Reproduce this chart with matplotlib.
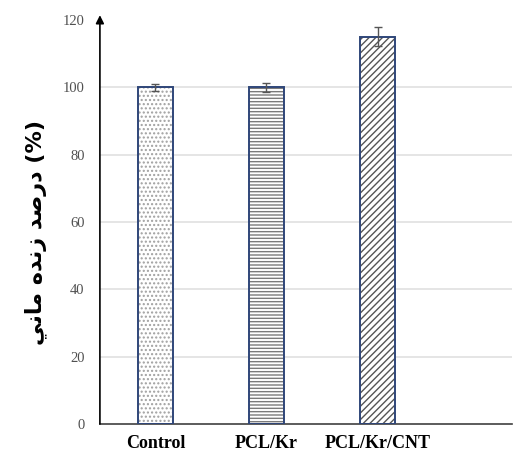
import matplotlib
matplotlib.use("Agg")
import matplotlib.pyplot as plt

# data
groups = ["Control", "PCL/Kr", "PCL/Kr/CNT"]
viability = [100, 100, 115]
errors = [1.1, 1.3, 2.8]
hatches = ["....", "-----", "/////"]
hatch_colors = ["#a0a0a0", "#7a7a7a", "#555555"]
yticks = [0, 20, 40, 60, 80, 100, 120]

# Persian label "درصد زنده مانی (%)" written in shaped presentation forms,
# laid out left to right so it shows correctly without a bidi engine
ylabel = "\ufef2\ufee7\ufe8e\ufee3 \ufee9\ufeaa\ufee7\ufeaf \ufeaa\ufebb\ufead\ufea9 (%)"

plt.rcParams["hatch.linewidth"] = 1.0

fig = plt.figure(figsize=(5.15, 4.55), dpi=100)
ax = fig.add_axes([0.194, 0.068, 0.8, 0.888])

x = range(len(groups))
for i in x:
    ax.bar(i, viability[i], width=0.315, color="white", hatch=hatches[i],
           edgecolor=hatch_colors[i], linewidth=0, zorder=2)
ax.bar(x, viability, width=0.315, fill=False, edgecolor="#2f4679",
       linewidth=1.4, zorder=3)
ax.errorbar(x, viability, yerr=errors, fmt="none", ecolor="#555555",
            elinewidth=1.0, capsize=3, capthick=1.0, zorder=4)

ax.set_xlim(-0.5, 3.21)
ax.set_ylim(0, 120)
ax.set_yticks(yticks)
ax.set_yticklabels([str(v) for v in yticks], family="Liberation Serif",
                   fontsize=10.5, color="#505050")
ax.set_xticks(list(x))
ax.set_xticklabels(groups, family="Liberation Serif", fontweight="bold",
                   fontsize=13)
ax.tick_params(axis="y", length=0, pad=11)
ax.tick_params(axis="x", length=0, pad=8)

for v in yticks[1:-1]:
    ax.axhline(v, color="#e0e0e0", linewidth=1.2, zorder=1)

for s in ["top", "right", "left"]:
    ax.spines[s].set_visible(False)
ax.spines["bottom"].set_color("#404040")
ax.spines["bottom"].set_linewidth(1.2)

# y axis drawn as an arrow
ax.annotate("", xy=(0, 1.012), xytext=(0, 0), xycoords="axes fraction",
            arrowprops=dict(arrowstyle="-|>", color="black", lw=1.2,
                            mutation_scale=12, shrinkA=0, shrinkB=0))

fig.text(0.07, 0.49, ylabel, rotation=90, ha="center", va="center",
         family="DejaVu Sans", fontweight="bold", fontsize=16)

fig.savefig("out.png", dpi=100)
